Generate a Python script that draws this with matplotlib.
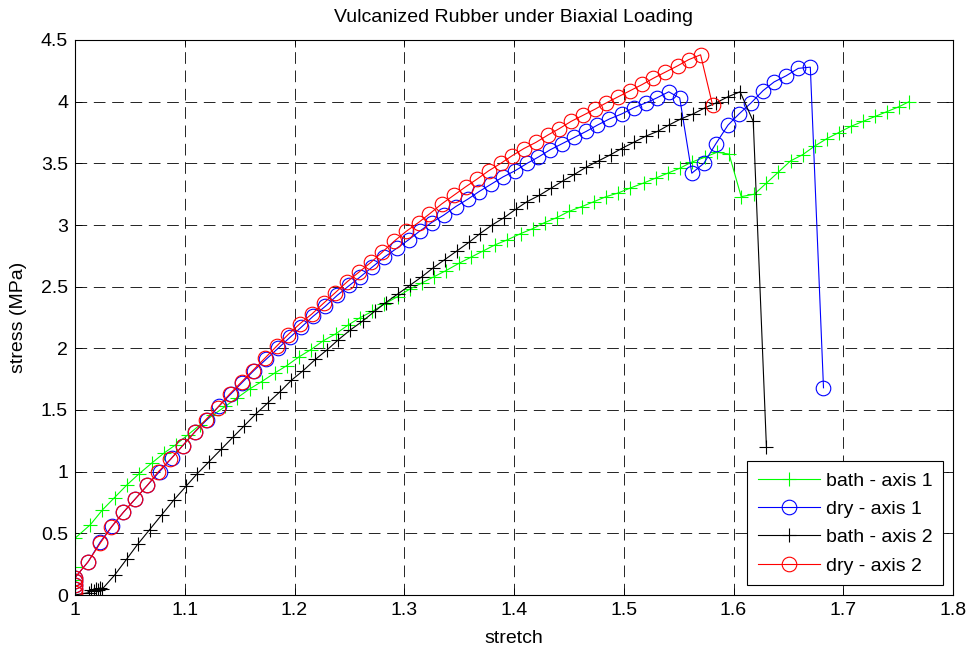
import matplotlib
matplotlib.use("Agg")
import matplotlib.pyplot as plt

plt.rcParams['font.family'] = ['Liberation Sans', 'DejaVu Sans']

title = "Vulcanized Rubber under Biaxial Loading"
xlabel = "stretch"
ylabel = "stress (MPa)"
labels = ["bath - axis 1", "dry - axis 1", "bath - axis 2", "dry - axis 2"]

x_ticks = [1.0, 1.1, 1.2, 1.3, 1.4, 1.5, 1.6, 1.7, 1.8]
x_tick_labels = ["1", "1.1", "1.2", "1.3", "1.4", "1.5", "1.6", "1.7", "1.8"]
y_ticks = [0, 0.5, 1, 1.5, 2, 2.5, 3, 3.5, 4, 4.5]
y_tick_labels = ["0", "0.5", "1", "1.5", "2", "2.5", "3", "3.5", "4", "4.5"]

# bath - axis 1 (green)
bath1_x = [1.0, 1.0, 1.0, 1.0,
           1.014, 1.025, 1.036, 1.047, 1.058, 1.070, 1.081, 1.092, 1.103, 1.114,
           1.126, 1.137, 1.148, 1.159, 1.170, 1.182, 1.193, 1.204, 1.215, 1.226,
           1.238, 1.249, 1.260, 1.271, 1.282, 1.294, 1.305, 1.316, 1.327, 1.338,
           1.350, 1.361, 1.372, 1.383, 1.394, 1.406, 1.417, 1.428, 1.439, 1.450,
           1.462, 1.473, 1.484, 1.495, 1.506, 1.518, 1.529, 1.540, 1.551, 1.562,
           1.574, 1.585, 1.596, 1.607, 1.619, 1.630, 1.641, 1.652, 1.663, 1.674,
           1.685, 1.696, 1.707, 1.718, 1.729, 1.740, 1.751, 1.760]
bath1_y = [0.0, 0.12, 0.23, 0.46,
           0.57, 0.69, 0.79, 0.89, 0.98, 1.07, 1.15, 1.22, 1.30, 1.38,
           1.46, 1.53, 1.60, 1.67, 1.73, 1.80, 1.86, 1.93, 1.99, 2.06,
           2.12, 2.19, 2.25, 2.30, 2.36, 2.42, 2.48, 2.53, 2.58, 2.63,
           2.69, 2.74, 2.79, 2.84, 2.88, 2.93, 2.97, 3.02, 3.06, 3.11,
           3.15, 3.19, 3.23, 3.26, 3.30, 3.34, 3.38, 3.42, 3.46, 3.51,
           3.55, 3.59, 3.575, 3.23, 3.25, 3.34, 3.43, 3.52, 3.57, 3.64,
           3.70, 3.75, 3.80, 3.84, 3.88, 3.92, 3.96, 4.00]

# dry - axis 1 (blue)
dry1_x = [1.0, 1.0, 1.0, 1.0,
          1.012, 1.023, 1.034, 1.044, 1.055, 1.066, 1.077, 1.088, 1.098, 1.109,
          1.120, 1.131, 1.142, 1.152, 1.163, 1.174, 1.185, 1.196, 1.206, 1.217,
          1.228, 1.239, 1.250, 1.260, 1.271, 1.282, 1.293, 1.304, 1.314, 1.325,
          1.336, 1.347, 1.358, 1.368, 1.379, 1.390, 1.401, 1.412, 1.422, 1.433,
          1.444, 1.455, 1.466, 1.476, 1.487, 1.498, 1.509, 1.520, 1.530, 1.541,
          1.551, 1.562, 1.573, 1.584, 1.595, 1.605, 1.616, 1.627, 1.637, 1.648,
          1.659, 1.670, 1.682]
dry1_y = [0.05, 0.08, 0.11, 0.14,
          0.27, 0.43, 0.56, 0.67, 0.78, 0.89, 1.00, 1.11, 1.21, 1.32,
          1.42, 1.53, 1.63, 1.72, 1.82, 1.91, 2.00, 2.09, 2.17, 2.26,
          2.34, 2.43, 2.51, 2.58, 2.66, 2.74, 2.81, 2.88, 2.95, 3.02,
          3.08, 3.15, 3.21, 3.27, 3.33, 3.39, 3.44, 3.50, 3.55, 3.61,
          3.66, 3.71, 3.76, 3.81, 3.86, 3.90, 3.95, 3.99, 4.03, 4.08,
          4.03, 3.42, 3.50, 3.66, 3.81, 3.90, 3.99, 4.09, 4.16, 4.21,
          4.27, 4.28, 1.68]

# bath - axis 2 (black)
bath2_x = [1.0, 1.013, 1.015, 1.017, 1.019, 1.021, 1.023, 1.025,
           1.036, 1.047, 1.057, 1.068, 1.079, 1.090, 1.101, 1.111, 1.122, 1.133,
           1.144, 1.154, 1.165, 1.176, 1.187, 1.197, 1.208, 1.219, 1.230, 1.240,
           1.251, 1.262, 1.273, 1.283, 1.294, 1.305, 1.316, 1.326, 1.337, 1.348,
           1.359, 1.369, 1.380, 1.391, 1.402, 1.412, 1.423, 1.434, 1.445, 1.455,
           1.466, 1.477, 1.488, 1.498, 1.509, 1.520, 1.531, 1.541, 1.552, 1.563,
           1.574, 1.584, 1.595, 1.606, 1.618, 1.630]
bath2_y = [0.0, 0.02, 0.04, 0.03, 0.05, 0.04, 0.06, 0.05,
           0.16, 0.29, 0.41, 0.53, 0.65, 0.77, 0.88, 0.98, 1.08, 1.18,
           1.28, 1.37, 1.47, 1.56, 1.65, 1.74, 1.82, 1.91, 1.99, 2.07,
           2.15, 2.22, 2.30, 2.37, 2.44, 2.51, 2.58, 2.65, 2.72, 2.79,
           2.86, 2.93, 3.00, 3.06, 3.13, 3.19, 3.24, 3.30, 3.36, 3.41,
           3.47, 3.52, 3.57, 3.62, 3.67, 3.72, 3.76, 3.81, 3.86, 3.90,
           3.95, 3.99, 4.04, 4.08, 3.84, 1.20]

# dry - axis 2 (red)
dry2_x = [1.0, 1.0, 1.0, 1.0, 1.0,
          1.012, 1.023, 1.033, 1.044, 1.055, 1.066, 1.076, 1.087, 1.098, 1.109,
          1.119, 1.130, 1.141, 1.152, 1.162, 1.173, 1.184, 1.194, 1.205, 1.216,
          1.227, 1.237, 1.248, 1.259, 1.270, 1.280, 1.291, 1.302, 1.313, 1.323,
          1.334, 1.345, 1.356, 1.366, 1.377, 1.388, 1.398, 1.409, 1.420, 1.431,
          1.441, 1.452, 1.463, 1.474, 1.484, 1.495, 1.506, 1.517, 1.527, 1.538,
          1.549, 1.559, 1.570, 1.581]
dry2_y = [0.02, 0.05, 0.08, 0.11, 0.14,
          0.27, 0.42, 0.55, 0.67, 0.78, 0.89, 1.00, 1.10, 1.21, 1.32,
          1.42, 1.52, 1.63, 1.73, 1.82, 1.92, 2.02, 2.11, 2.20, 2.28,
          2.37, 2.45, 2.54, 2.62, 2.70, 2.78, 2.87, 2.95, 3.02, 3.09,
          3.17, 3.24, 3.31, 3.37, 3.44, 3.50, 3.56, 3.62, 3.67, 3.73,
          3.78, 3.84, 3.89, 3.94, 3.99, 4.04, 4.09, 4.14, 4.19, 4.24,
          4.29, 4.34, 4.38, 3.97]

fig = plt.figure(figsize=(9.68, 6.5), dpi=100)
ax = fig.add_axes([75/968, 1 - 595/650, (953 - 75)/968, (595 - 40)/650])

lw = 0.8
ms_o = 10.5
ms_p = 10
ax.plot(bath1_x, bath1_y, color=(0, 1, 0), marker='+', markersize=ms_p, markeredgewidth=0.8, linewidth=lw, label=labels[0])
ax.plot(dry1_x, dry1_y, color=(0, 0, 1), marker='o', markersize=ms_o, markerfacecolor='none', markeredgewidth=0.8, linewidth=lw, label=labels[1])
ax.plot(bath2_x, bath2_y, color='black', marker='+', markersize=ms_p, markeredgewidth=0.8, linewidth=lw, label=labels[2])
ax.plot(dry2_x, dry2_y, color=(1, 0, 0), marker='o', markersize=ms_o, markerfacecolor='none', markeredgewidth=0.8, linewidth=lw, label=labels[3])

ax.set_xlim(1.0, 1.8)
ax.set_ylim(0, 4.5)
ax.set_xticks(x_ticks)
ax.set_xticklabels(x_tick_labels)
ax.set_yticks(y_ticks)
ax.set_yticklabels(y_tick_labels)
ax.tick_params(direction='in', top=True, right=True, labelsize=14, length=5, width=0.6, pad=5)
ax.grid(True, color='black', linestyle=(0, (14, 8)), linewidth=0.6)
for s in ax.spines.values():
    s.set_linewidth(0.8)

ax.set_title(title, fontsize=14, pad=13)
ax.set_xlabel(xlabel, fontsize=14, labelpad=8)
ax.set_ylabel(ylabel, fontsize=14, labelpad=10)

leg = ax.legend(loc='lower right', fontsize=14, fancybox=False, framealpha=1,
                edgecolor='black', handlelength=3.2, handletextpad=0.3,
                borderaxespad=0.5, labelspacing=0.55, borderpad=0.55)
leg.get_frame().set_linewidth(0.8)

fig.savefig("out.png", dpi=100)
